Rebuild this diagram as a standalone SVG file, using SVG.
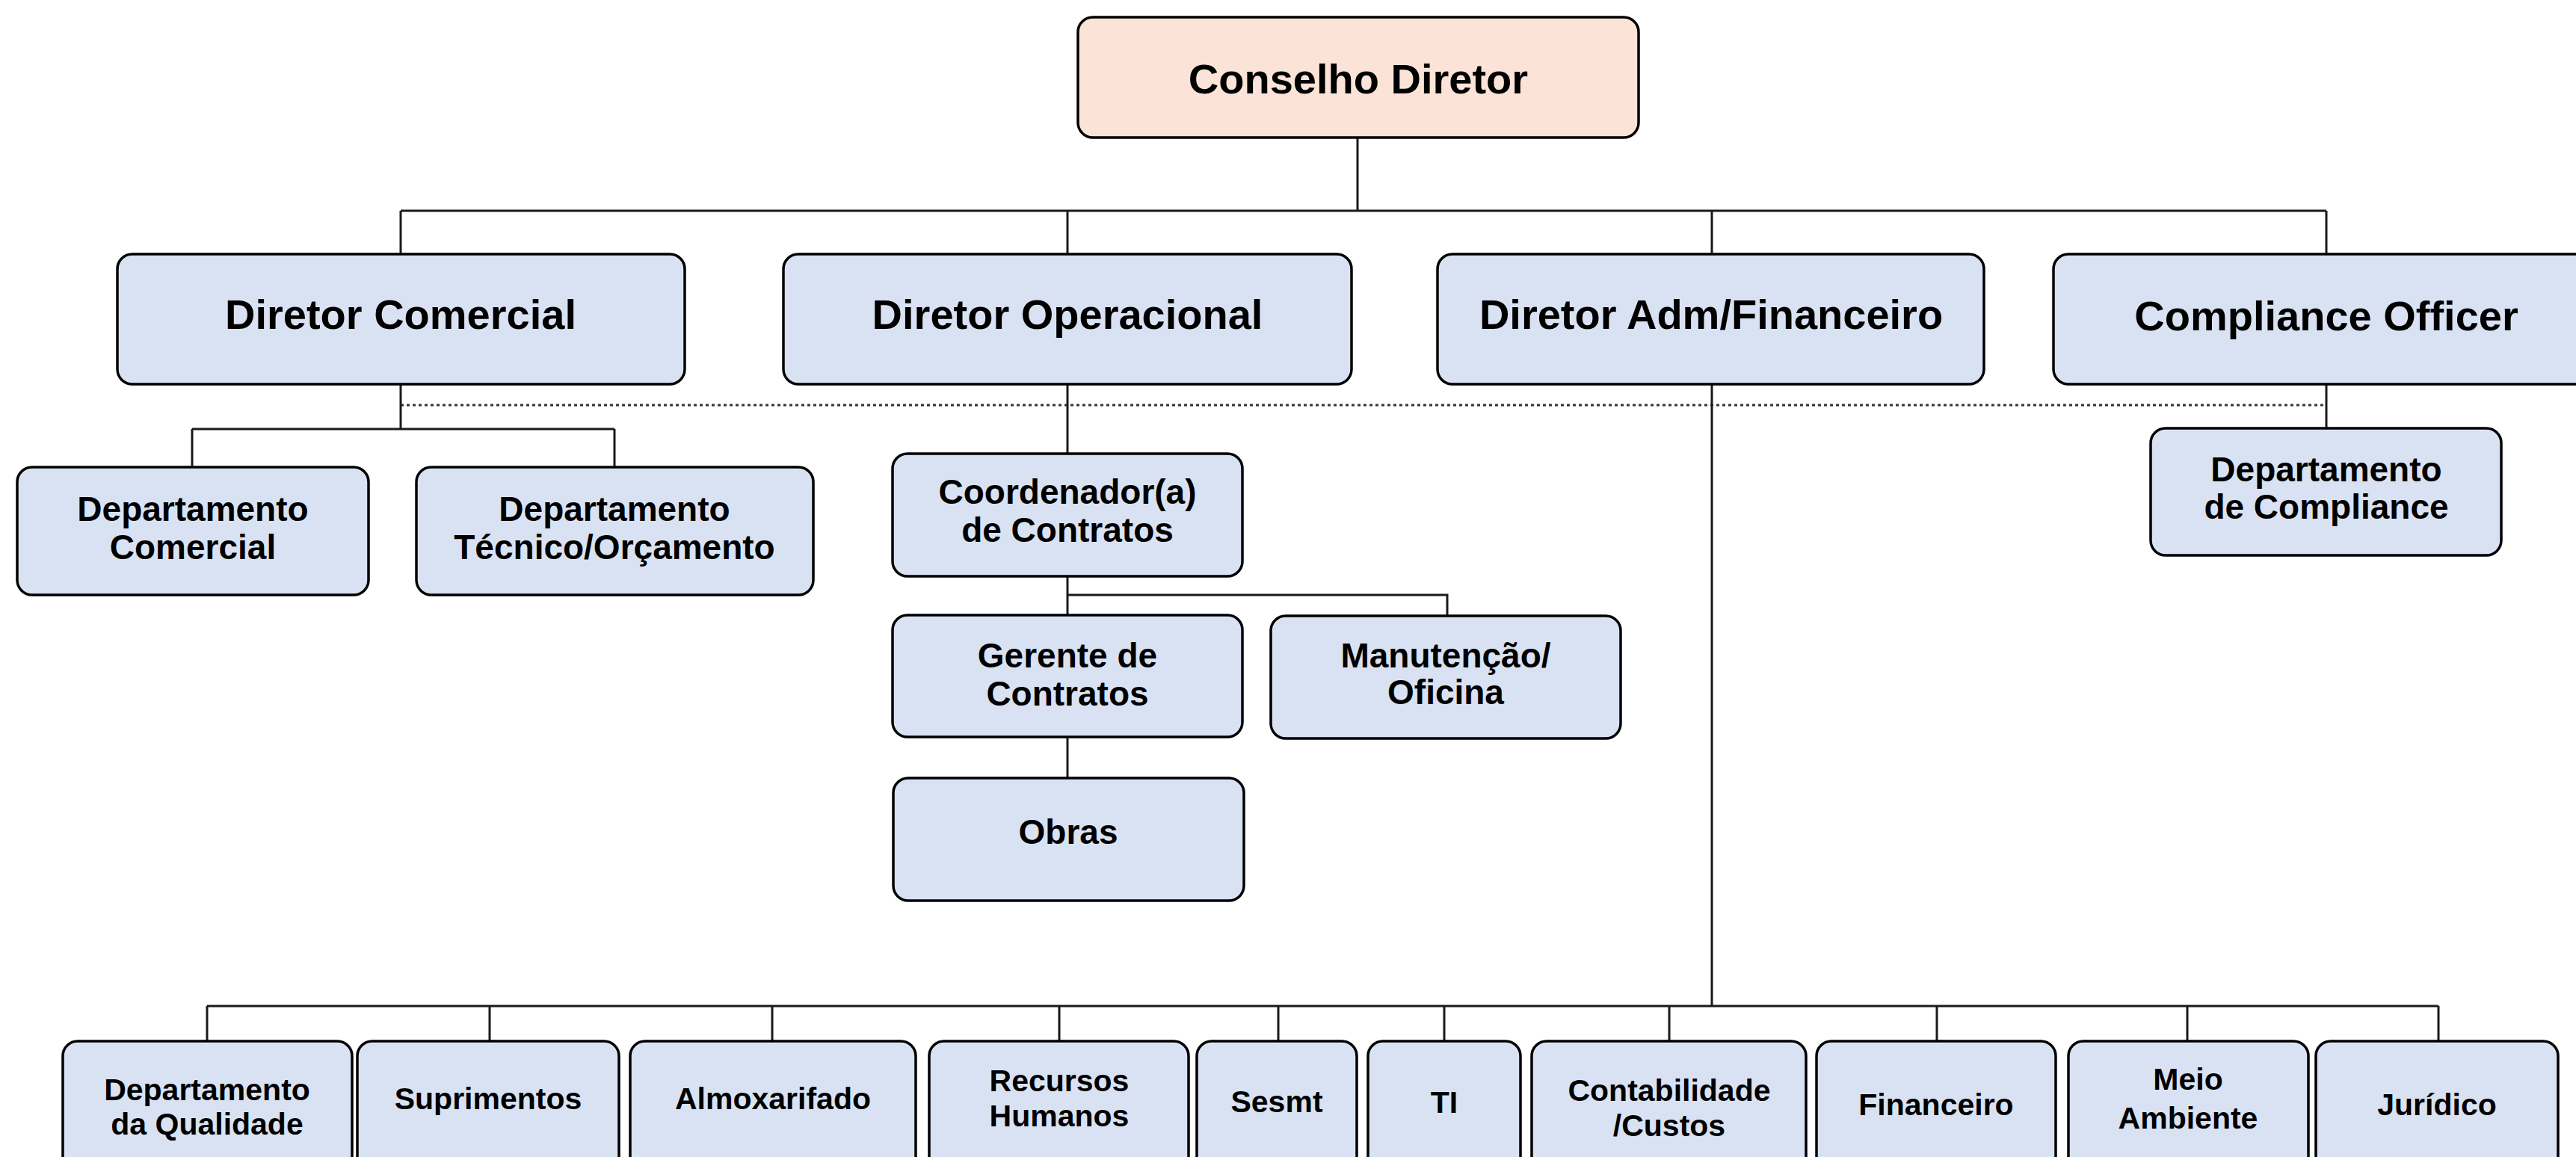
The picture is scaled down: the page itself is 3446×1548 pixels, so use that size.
<svg xmlns="http://www.w3.org/2000/svg" width="3446" height="1548" viewBox="0 0 3446 1548">
<style>
.box{fill:#D9E2F3;stroke:#000;stroke-width:3.5}
.top{fill:#FBE4D7;stroke:#000;stroke-width:3.5}
.t{font-family:"Liberation Sans",Arial,sans-serif;font-weight:bold;fill:#000;text-anchor:middle}
.l1{font-size:56px}
.l2{font-size:46px}
.l3{font-size:41px}
.c{fill:none;stroke:#1a1a1a;stroke-width:3}
.d{fill:none;stroke:#333;stroke-width:3;stroke-dasharray:4 4}
</style>
<rect width="3446" height="1548" fill="#fff"/>
<g id="connectors">
<path class="c" d="M1816 184V282M536 282H3112M536 282V340M1428 282V340M2290 282V340M3112 282V340"/>
<path class="d" d="M536 542H3112"/>
<path class="c" d="M536 514V574M257 574H822M257 574V625M822 574V625"/>
<path class="c" d="M1428 514V607M1428 771V823M1428 796H1936V824M1428 986V1041"/>
<path class="c" d="M3112 514V573"/>
<path class="c" d="M2290 514V1346M277 1346H3262M277 1346V1393M655 1346V1393M1033 1346V1393M1417 1346V1393M1710 1346V1393M1932 1346V1393M2233 1346V1393M2591 1346V1393M2926 1346V1393M3262 1346V1393"/>
</g>
<g id="conselho"><rect class="top" x="1442" y="23" width="750" height="161" rx="20"/><text class="t l1" x="1817" y="125">Conselho Diretor</text></g>
<g id="dir-comercial"><rect class="box" x="157" y="340" width="759" height="174" rx="20"/><text class="t l1" x="536" y="440">Diretor Comercial</text></g>
<g id="dir-operacional"><rect class="box" x="1048" y="340" width="760" height="174" rx="20"/><text class="t l1" x="1428" y="440">Diretor Operacional</text></g>
<g id="dir-adm"><rect class="box" x="1923" y="340" width="731" height="174" rx="20"/><text class="t l1" x="2289" y="440">Diretor Adm/Financeiro</text></g>
<g id="compliance-officer"><rect class="box" x="2747" y="340" width="730" height="174" rx="20"/><text class="t l1" x="3112" y="442">Compliance Officer</text></g>
<g id="dep-comercial"><rect class="box" x="23" y="625" width="470" height="171" rx="20"/><text class="t l2" x="258" y="697">Departamento</text><text class="t l2" x="258" y="748">Comercial</text></g>
<g id="dep-tecnico"><rect class="box" x="557" y="625" width="531" height="171" rx="20"/><text class="t l2" x="822" y="697">Departamento</text><text class="t l2" x="822" y="748">Técnico/Orçamento</text></g>
<g id="coordenador"><rect class="box" x="1194" y="607" width="468" height="164" rx="20"/><text class="t l2" x="1428" y="674">Coordenador(a)</text><text class="t l2" x="1428" y="725">de Contratos</text></g>
<g id="gerente"><rect class="box" x="1194" y="823" width="468" height="163" rx="20"/><text class="t l2" x="1428" y="893">Gerente de</text><text class="t l2" x="1428" y="944">Contratos</text></g>
<g id="manutencao"><rect class="box" x="1700" y="824" width="468" height="164" rx="20"/><text class="t l2" x="1934" y="893">Manutenção/</text><text class="t l2" x="1934" y="942">Oficina</text></g>
<g id="obras"><rect class="box" x="1195" y="1041" width="469" height="164" rx="20"/><text class="t l2" x="1429" y="1129">Obras</text></g>
<g id="dep-compliance"><rect class="box" x="2877" y="573" width="469" height="170" rx="20"/><text class="t l2" x="3112" y="644">Departamento</text><text class="t l2" x="3112" y="694">de Compliance</text></g>
<g id="qualidade"><rect class="box" x="84" y="1393" width="387" height="200" rx="20"/><text class="t l3" x="277" y="1472">Departamento</text><text class="t l3" x="277" y="1518">da Qualidade</text></g>
<g id="suprimentos"><rect class="box" x="478" y="1393" width="350" height="200" rx="20"/><text class="t l3" x="653" y="1484">Suprimentos</text></g>
<g id="almoxarifado"><rect class="box" x="843" y="1393" width="382" height="200" rx="20"/><text class="t l3" x="1034" y="1484">Almoxarifado</text></g>
<g id="rh"><rect class="box" x="1243" y="1393" width="347" height="200" rx="20"/><text class="t l3" x="1417" y="1460">Recursos</text><text class="t l3" x="1417" y="1507">Humanos</text></g>
<g id="sesmt"><rect class="box" x="1601" y="1393" width="214" height="200" rx="20"/><text class="t l3" x="1708" y="1488">Sesmt</text></g>
<g id="ti"><rect class="box" x="1830" y="1393" width="204" height="200" rx="20"/><text class="t l3" x="1932" y="1489">TI</text></g>
<g id="contabilidade"><rect class="box" x="2049" y="1393" width="367" height="200" rx="20"/><text class="t l3" x="2233" y="1473">Contabilidade</text><text class="t l3" x="2233" y="1520">/Custos</text></g>
<g id="financeiro"><rect class="box" x="2430" y="1393" width="320" height="200" rx="20"/><text class="t l3" x="2590" y="1492">Financeiro</text></g>
<g id="meio-ambiente"><rect class="box" x="2767" y="1393" width="321" height="200" rx="20"/><text class="t l3" x="2927" y="1458">Meio</text><text class="t l3" x="2927" y="1510">Ambiente</text></g>
<g id="juridico"><rect class="box" x="3098" y="1393" width="324" height="200" rx="20"/><text class="t l3" x="3260" y="1492">Jurídico</text></g>
</svg>
